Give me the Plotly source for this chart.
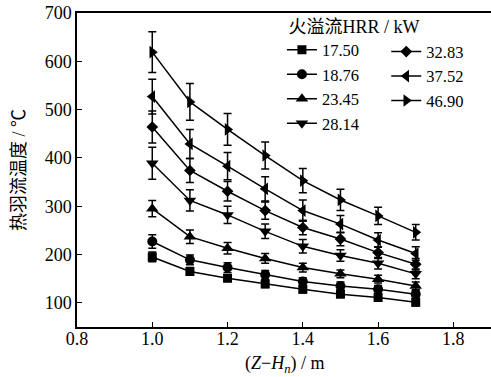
import plotly.graph_objects as go

x_vals = [1.0, 1.1, 1.2, 1.3, 1.4, 1.5, 1.6, 1.7]

labels = ["17.50", "18.76", "23.45", "28.14", "32.83", "37.52", "46.90"]
symbols = ["square", "circle", "triangle-up", "triangle-down", "diamond", "triangle-left", "triangle-right"]

t_1750 = [195, 165, 151, 139, 128, 118, 111, 101]
t_1876 = [227, 189, 173, 158, 144, 135, 128, 118]
t_2345 = [295, 237, 213, 192, 173, 160, 149, 135]
t_2814 = [389, 312, 282, 248, 217, 198, 182, 160]
t_3283 = [464, 374, 331, 291, 256, 232, 204, 180]
t_3752 = [527, 429, 383, 336, 291, 263, 230, 202]
t_4690 = [619, 516, 459, 405, 353, 313, 280, 246]

e_1750 = [10, 8, 7, 7, 7, 7, 7, 7]
e_1876 = [14, 10, 10, 9, 8, 8, 8, 8]
e_2345 = [17, 14, 12, 10, 9, 8, 8, 8]
e_2814 = [33, 22, 18, 15, 14, 12, 12, 10]
e_3283 = [33, 25, 20, 18, 15, 14, 12, 12]
e_3752 = [36, 30, 28, 25, 22, 18, 15, 14]
e_4690 = [42, 38, 33, 28, 25, 22, 18, 16]

series = [t_1750, t_1876, t_2345, t_2814, t_3283, t_3752, t_4690]
errors = [e_1750, e_1876, e_2345, e_2814, e_3283, e_3752, e_4690]
msizes = [9, 10, 11, 11, 9, 11, 11]

FONT = "Liberation Serif, Times New Roman, Noto Sans CJK SC, serif"

fig = go.Figure()
for i, (lab, sym, ys, es, ms) in enumerate(zip(labels, symbols, series, errors, msizes)):
    fig.add_trace(go.Scatter(
        x=x_vals, y=ys, name=lab, mode="lines+markers",
        line=dict(color="black", width=1.5),
        marker=dict(symbol=sym, size=ms, color="black"),
        error_y=dict(type="data", array=es, visible=True, color="black", thickness=1.5, width=4),
        legend="legend" if i < 4 else "legend2",
    ))

fig.update_layout(
    width=491, height=377,
    margin=dict(l=77, r=0, t=13, b=50, autoexpand=False),
    paper_bgcolor="white", plot_bgcolor="white",
    font=dict(family=FONT, size=18, color="black"),
    showlegend=True,
    legend=dict(
        x=0.495, y=1.012, xanchor="left", yanchor="top",
        bgcolor="rgba(0,0,0,0)", borderwidth=0,
        title=dict(text="&nbsp;火溢流HRR / kW", font=dict(size=18)),
        font=dict(size=16.5), tracegroupgap=0, itemwidth=30,
    ),
    legend2=dict(
        x=0.747, y=0.932, xanchor="left", yanchor="top",
        bgcolor="rgba(0,0,0,0)", borderwidth=0,
        font=dict(size=16.5), tracegroupgap=0, itemwidth=30,
    ),
    xaxis=dict(
        range=[0.8, 1.9], tickvals=[0.8, 1.0, 1.2, 1.4, 1.6, 1.8],
        ticktext=["0.8", "1.0", "1.2", "1.4", "1.6", "1.8"],
        ticks="inside", ticklen=5, tickwidth=1.2, tickcolor="black",
        ticklabelstandoff=-5,
        showline=True, linecolor="black", linewidth=1.5, mirror=True,
        showgrid=False, zeroline=False, automargin=False,
    ),
    yaxis=dict(
        range=[50, 700], tickvals=[100, 200, 300, 400, 500, 600, 700],
        ticks="inside", ticklen=5, tickwidth=1.2, tickcolor="black",
        showline=True, linecolor="black", linewidth=1.5, mirror=True,
        showgrid=False, zeroline=False, automargin=False,
        title=dict(text="热羽流温度 / ℃", font=dict(size=18), standoff=14),
    ),
    annotations=[dict(
        text="(<i>Z</i>−<i>H</i><sub><i>n</i></sub>) / m",
        xref="paper", yref="paper", x=0.5, y=-0.118,
        xanchor="center", yanchor="middle", showarrow=False,
        font=dict(size=18),
    )],
)

fig.write_html("out.html", config={"displayModeBar": False},
               post_script="document.body.style.margin='0px';")
